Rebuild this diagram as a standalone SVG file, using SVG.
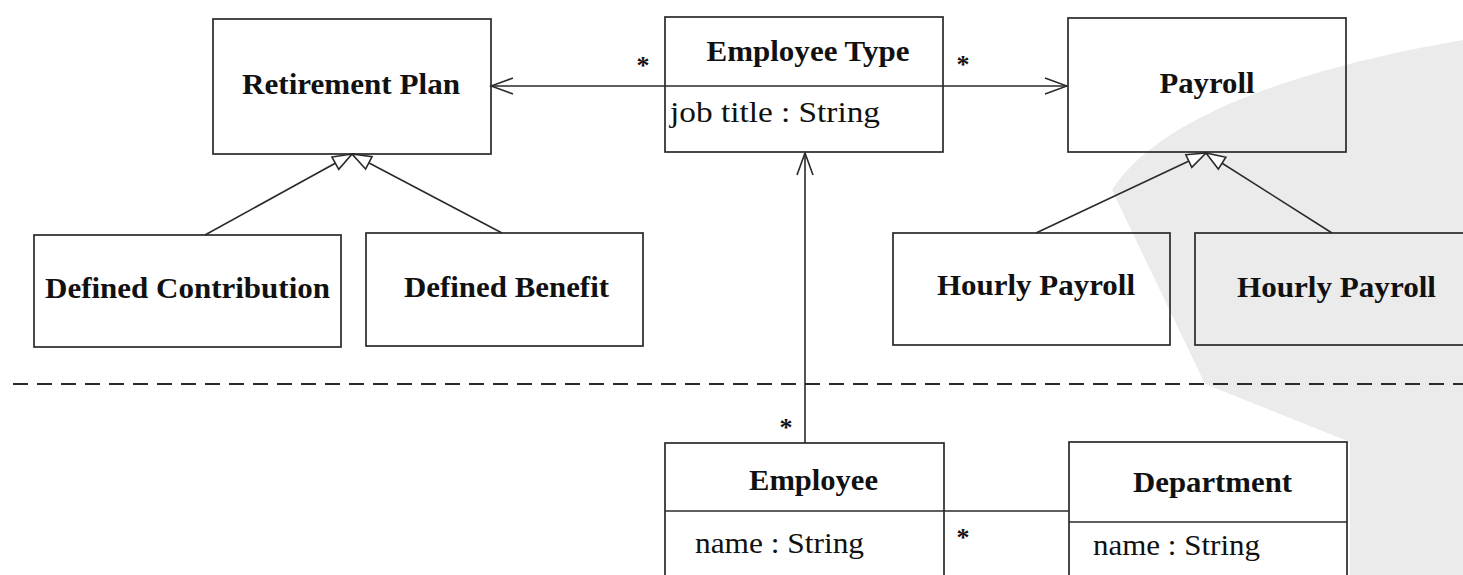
<svg xmlns="http://www.w3.org/2000/svg" width="1463" height="575" viewBox="0 0 1463 575">
<style>
.box{fill:none;stroke:#2a2a2a;stroke-width:1.7}
.ln{fill:none;stroke:#2a2a2a;stroke-width:1.6}
.t{font-family:"Liberation Serif","Times New Roman",serif;font-size:30px;font-weight:bold;fill:#111;text-anchor:middle}
.a{font-family:"Liberation Serif","Times New Roman",serif;font-size:30px;fill:#111}
.m{font-family:"Liberation Serif","Times New Roman",serif;font-size:26px;font-weight:bold;fill:#111;text-anchor:middle}
</style>
<defs>
<marker id="open" markerUnits="userSpaceOnUse" viewBox="-24 -10 26 20" refX="0" refY="0" markerWidth="26" markerHeight="20" orient="auto">
<path d="M-22,-8 L0,0 L-22,8" fill="none" stroke="#2a2a2a" stroke-width="1.6"/>
</marker>
<marker id="tri" markerUnits="userSpaceOnUse" viewBox="-22 -10 24 20" refX="0" refY="0" markerWidth="24" markerHeight="20" orient="auto">
<path d="M-19,-7 L0,0 L-19,7 Z" fill="#fff" stroke="#2a2a2a" stroke-width="1.6"/>
</marker>
</defs>
<rect width="1463" height="575" fill="#fff"/>
<path id="watermark" d="M1112,190 C1150,130 1260,75 1463,40 L1463,575 L1350,575 L1350,442 L1205,384 Z" fill="#ebebeb"/>
<line x1="13" y1="384" x2="1463" y2="384" stroke="#2a2a2a" stroke-width="2" stroke-dasharray="15 9"/>
<g id="connectors">
<line class="ln" x1="665" y1="86" x2="491" y2="86" marker-end="url(#open)"/>
<line class="ln" x1="943" y1="86" x2="1067" y2="86" marker-end="url(#open)"/>
<line class="ln" x1="805" y1="443" x2="805" y2="153" marker-end="url(#open)"/>
<line class="ln" x1="944" y1="511" x2="1069" y2="511"/>
<line class="ln" x1="205" y1="235" x2="352" y2="154" marker-end="url(#tri)"/>
<line class="ln" x1="502" y1="233" x2="352" y2="154" marker-end="url(#tri)"/>
<line class="ln" x1="1036" y1="233" x2="1206" y2="153" marker-end="url(#tri)"/>
<line class="ln" x1="1332" y1="233" x2="1206" y2="153" marker-end="url(#tri)"/>
<text class="m" x="643" y="74">*</text>
<text class="m" x="963" y="73">*</text>
<text class="m" x="786" y="436">*</text>
<text class="m" x="963" y="546">*</text>
</g>
<g id="retirement-plan">
<rect class="box" x="213" y="19" width="278" height="135"/>
<text class="t" x="351" y="94" textLength="218" lengthAdjust="spacingAndGlyphs">Retirement Plan</text>
</g>
<g id="employee-type">
<rect class="box" x="665" y="17" width="278" height="135"/>
<line class="box" x1="665" y1="86" x2="943" y2="86"/>
<text class="t" x="808" y="61" textLength="203" lengthAdjust="spacingAndGlyphs">Employee Type</text>
<text class="a" x="670" y="122" textLength="210" lengthAdjust="spacingAndGlyphs">job title : String</text>
</g>
<g id="payroll">
<rect class="box" x="1068" y="18" width="278" height="134"/>
<text class="t" x="1207" y="93" textLength="95" lengthAdjust="spacingAndGlyphs">Payroll</text>
</g>
<g id="defined-contribution">
<rect class="box" x="34" y="235" width="307" height="112"/>
<text class="t" x="187.5" y="298" textLength="285" lengthAdjust="spacingAndGlyphs">Defined Contribution</text>
</g>
<g id="defined-benefit">
<rect class="box" x="366" y="233" width="277" height="113"/>
<text class="t" x="506.5" y="297" textLength="205" lengthAdjust="spacingAndGlyphs">Defined Benefit</text>
</g>
<g id="hourly-payroll-1">
<rect class="box" x="893" y="233" width="277" height="112"/>
<text class="t" x="1036" y="295" textLength="198" lengthAdjust="spacingAndGlyphs">Hourly Payroll</text>
</g>
<g id="hourly-payroll-2">
<rect class="box" x="1195" y="233" width="290" height="112"/>
<text class="t" x="1336.5" y="297" textLength="199" lengthAdjust="spacingAndGlyphs">Hourly Payroll</text>
</g>
<g id="employee">
<rect class="box" x="665" y="443" width="279" height="150"/>
<line class="box" x1="665" y1="511" x2="944" y2="511"/>
<text class="t" x="813.5" y="490" textLength="129" lengthAdjust="spacingAndGlyphs">Employee</text>
<text class="a" x="695" y="553" textLength="169" lengthAdjust="spacingAndGlyphs">name : String</text>
</g>
<g id="department">
<rect class="box" x="1069" y="442" width="278" height="150"/>
<line class="box" x1="1069" y1="522" x2="1347" y2="522"/>
<text class="t" x="1212.5" y="492" textLength="159" lengthAdjust="spacingAndGlyphs">Department</text>
<text class="a" x="1093" y="555" textLength="167" lengthAdjust="spacingAndGlyphs">name : String</text>
</g>
</svg>
